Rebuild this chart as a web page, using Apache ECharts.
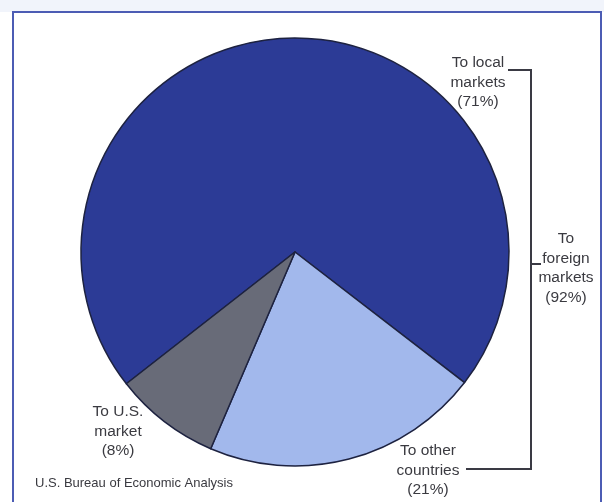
<!DOCTYPE html>
<html>
<head>
<meta charset="utf-8">
<script src="https://cdn.jsdelivr.net/npm/echarts@6/dist/echarts.min.js"></script>
<style>
html,body{margin:0;padding:0;background:#ffffff;}
#chart{width:604px;height:502px;}
</style>
</head>
<body>
<div id="chart"></div>
<script>
// Data
var categories = ['To local markets', 'To other countries', 'To U.S. market'];
var shares = [71, 21, 8];
var sliceColors = ['#2c3b96', '#a2b8ec', '#686b78'];
var groupLabel = 'To foreign markets';
var groupShare = 92;
var sourceText = 'U.S. Bureau of Economic Analysis';

var chart = echarts.init(document.getElementById('chart'), null, {renderer: 'canvas'});

var txtStyle = {fontFamily: 'Liberation Sans, Arial, sans-serif', fontSize: 15.5, fill: '#3a3a40', align: 'center', lineHeight: 19.5};
function lbl(x, y, text) {
  return {type: 'text', x: x, y: y, style: Object.assign({text: text, verticalAlign: 'top'}, txtStyle), z: 10};
}
function splitLabel(name, share) {
  var w = name.split(' ');
  var last = w.pop();
  return w.join(' ') + '\n' + last + '\n(' + share + '%)';
}

var lineStyle = {stroke: '#3a3a44', lineWidth: 2};

var option = {
  backgroundColor: '#ffffff',
  animation: false,
  series: [{
    type: 'pie',
    center: [295, 252],
    radius: 214,
    startAngle: 218,
    clockwise: true,
    label: {show: false},
    labelLine: {show: false},
    itemStyle: {borderColor: '#1d2240', borderWidth: 1.5},
    emphasis: {disabled: true},
    data: categories.map(function (c, i) {
      return {name: c, value: shares[i], itemStyle: {color: sliceColors[i]}};
    })
  }],
  graphic: [
    {type: 'rect', shape: {x: 0, y: 0, width: 604, height: 12}, style: {fill: '#f1f4fb'}, z: 1},
    {type: 'rect', shape: {x: 13, y: 12, width: 588, height: 520}, style: {fill: 'none', stroke: '#4c5cb4', lineWidth: 2}, z: 2},
    lbl(478, 53, splitLabel(categories[0], shares[0])),
    lbl(428, 441, splitLabel(categories[1], shares[1])),
    lbl(118, 402, splitLabel(categories[2], shares[2])),
    lbl(566, 229, 'To\nforeign\nmarkets\n(' + groupShare + '%)'),
    {type: 'polyline', shape: {points: [[508, 70], [531, 70], [531, 469], [466, 469]]}, style: Object.assign({fill: 'none'}, lineStyle), z: 5},
    {type: 'line', shape: {x1: 531, y1: 264, x2: 541, y2: 264}, style: lineStyle, z: 5},
    {type: 'text', x: 35, y: 477, style: {text: sourceText, fontFamily: 'Liberation Sans, Arial, sans-serif', fontSize: 13, fill: '#3a3a40', verticalAlign: 'top'}, z: 10}
  ]
};
chart.setOption(option);
</script>
</body>
</html>
